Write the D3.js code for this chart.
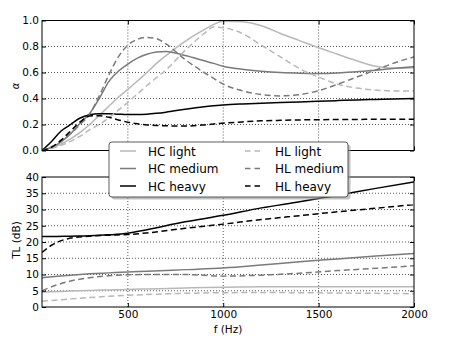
<!DOCTYPE html>
<html>
<head>
<meta charset="utf-8">
<script src="https://cdn.jsdelivr.net/npm/d3@7"></script>
<style>
  html, body { margin: 0; padding: 0; background: #fff; }
  svg text { font-family: "DejaVu Sans", sans-serif; fill: #000; }
</style>
</head>
<body>
<svg id="chart" width="467" height="344"></svg>
<script>
// ---------- data ----------
const seriesNames = ["HC light", "HC medium", "HC heavy", "HL light", "HL medium", "HL heavy"];

const alphaFreq = [50, 100, 150, 200, 250, 300, 350, 400, 450, 500, 550, 600, 650, 700, 800, 900, 950, 1000, 1100, 1200, 1300, 1400, 1500, 1600, 1700, 1800, 1900, 2000];

const alphaHCLight  = [0, 0.02, 0.05, 0.09, 0.14, 0.2, 0.27, 0.34, 0.41, 0.47, 0.535, 0.6, 0.67, 0.73, 0.84, 0.93, 0.97, 0.995, 0.99, 0.96, 0.9, 0.845, 0.79, 0.74, 0.69, 0.648, 0.632, 0.637];
const alphaHCMedium = [0, 0.025, 0.067, 0.13, 0.21, 0.285, 0.4, 0.53, 0.61, 0.665, 0.71, 0.74, 0.757, 0.762, 0.73, 0.69, 0.67, 0.648, 0.625, 0.61, 0.6, 0.595, 0.593, 0.597, 0.605, 0.618, 0.632, 0.645];
const alphaHCHeavy  = [0, 0.07, 0.15, 0.2, 0.25, 0.275, 0.283, 0.283, 0.279, 0.276, 0.276, 0.279, 0.286, 0.295, 0.318, 0.337, 0.344, 0.35, 0.358, 0.364, 0.369, 0.374, 0.379, 0.384, 0.389, 0.393, 0.397, 0.4];
const alphaHLLight  = [0, 0.015, 0.04, 0.07, 0.11, 0.16, 0.2, 0.25, 0.31, 0.37, 0.435, 0.5, 0.56, 0.62, 0.77, 0.9, 0.95, 0.945, 0.9, 0.81, 0.72, 0.63, 0.565, 0.51, 0.48, 0.465, 0.458, 0.458];
const alphaHLMedium = [0, 0.03, 0.07, 0.13, 0.2, 0.28, 0.42, 0.58, 0.72, 0.81, 0.855, 0.87, 0.86, 0.82, 0.7, 0.6, 0.555, 0.51, 0.46, 0.43, 0.42, 0.43, 0.46, 0.51, 0.565, 0.62, 0.675, 0.72];
const alphaHLHeavy  = [0, 0.025, 0.08, 0.15, 0.22, 0.265, 0.268, 0.255, 0.235, 0.218, 0.205, 0.197, 0.192, 0.19, 0.188, 0.197, 0.204, 0.21, 0.22, 0.228, 0.232, 0.235, 0.237, 0.238, 0.239, 0.24, 0.24, 0.24];

const tlFreq = [50, 100, 200, 300, 400, 500, 600, 800, 1000, 1200, 1400, 1600, 1800, 2000];

const tlHCLight  = [4.6, 4.7, 4.9, 5.1, 5.25, 5.4, 5.55, 5.85, 6.1, 6.2, 6.2, 6.2, 6.2, 6.2];
const tlHCMedium = [9.0, 9.3, 9.8, 10.2, 10.5, 10.8, 11.0, 11.5, 12.0, 12.9, 13.9, 14.8, 15.7, 16.5];
const tlHCHeavy  = [21.7, 21.7, 21.8, 21.9, 22.2, 22.7, 23.8, 26.2, 28.2, 30.5, 32.4, 34.4, 36.5, 38.5];
const tlHLLight  = [1.8, 2.0, 2.5, 2.9, 3.3, 3.6, 3.85, 4.2, 4.4, 4.45, 4.4, 4.3, 4.2, 4.1];
const tlHLMedium = [5.0, 6.2, 8.0, 9.0, 9.6, 9.9, 10.0, 10.0, 9.5, 9.8, 10.4, 11.2, 11.9, 12.7];
const tlHLHeavy  = [16.8, 19.0, 21.2, 21.8, 22.1, 22.3, 22.8, 24.2, 25.5, 26.9, 28.1, 29.3, 30.4, 31.5];

const xTicks = [500, 1000, 1500, 2000];
const alphaTicks = [0, 0.2, 0.4, 0.6, 0.8, 1.0];
const tlTicks = [0, 5, 10, 15, 20, 25, 30, 35, 40];

// ---------- styles ----------
const colors = ["#b8b8b8", "#7a7a7a", "#000000", "#b8b8b8", "#7a7a7a", "#000000"];
const dashed = [false, false, false, true, true, true];
const alphaSeries = [alphaHCLight, alphaHCMedium, alphaHCHeavy, alphaHLLight, alphaHLMedium, alphaHLHeavy];
const tlSeries = [tlHCLight, tlHCMedium, tlHCHeavy, tlHLLight, tlHLMedium, tlHLHeavy];

const svg = d3.select("#chart");
const L = 42, R = 414;
const x = d3.scaleLinear().domain([50, 2000]).range([L, R]);

function panel(top, bottom, yDomain, yTicks, fmt, freq, series, showX, clipId) {
  const y = d3.scaleLinear().domain(yDomain).range([bottom, top]);
  const g = svg.append("g");
  g.append("clipPath").attr("id", clipId).append("rect")
    .attr("x", L).attr("y", top).attr("width", R - L).attr("height", bottom - top);

  // grid
  const grid = g.append("g");
  xTicks.filter(t => t < 2000).forEach(t => {
    grid.append("line").attr("x1", x(t)).attr("x2", x(t)).attr("y1", top).attr("y2", bottom)
      .attr("stroke", "#444").attr("stroke-width", 0.9).attr("stroke-dasharray", "1,2");
  });
  yTicks.slice(1, -1).forEach(t => {
    grid.append("line").attr("x1", L).attr("x2", R).attr("y1", y(t)).attr("y2", y(t))
      .attr("stroke", "#444").attr("stroke-width", 0.9).attr("stroke-dasharray", "1,2");
  });

  // lines
  const line = d3.line().x((d, i) => x(freq[i])).y(d => y(d)).curve(d3.curveMonotoneX);
  const lg = g.append("g").attr("clip-path", `url(#${clipId})`);
  series.forEach((s, i) => {
    lg.append("path").attr("d", line(s)).attr("fill", "none")
      .attr("stroke", colors[i]).attr("stroke-width", 1.5)
      .attr("stroke-dasharray", dashed[i] ? "6,3.5" : null);
  });

  // axes (ticks inward)
  const yAxis = d3.axisLeft(y).tickValues(yTicks).tickFormat(fmt).tickSizeInner(-4).tickSizeOuter(0).tickPadding(3);
  const ya = g.append("g").attr("transform", `translate(${L},0)`).call(yAxis);
  const xAxis = d3.axisBottom(x).tickValues(xTicks).tickFormat(showX ? d3.format("d") : () => "")
    .tickSizeInner(-4).tickSizeOuter(0).tickPadding(4);
  const xa = g.append("g").attr("transform", `translate(0,${bottom})`).call(xAxis);
  const ya2 = g.append("g").attr("transform", `translate(${R},0)`)
    .call(d3.axisRight(y).tickValues(yTicks).tickFormat(() => "").tickSizeInner(-4).tickSizeOuter(0));
  const xa2 = g.append("g").attr("transform", `translate(0,${top})`)
    .call(d3.axisTop(x).tickValues(xTicks).tickFormat(() => "").tickSizeInner(-4).tickSizeOuter(0));
  [ya, xa, ya2, xa2].forEach(a => {
    a.select(".domain").remove();
    a.selectAll("line").attr("stroke", "#000");
    a.selectAll("text").attr("font-size", 10.5).style("font-family", "DejaVu Sans");
  });
  g.append("rect").attr("x", L).attr("y", top).attr("width", R - L).attr("height", bottom - top)
    .attr("fill", "none").attr("stroke", "#000").attr("stroke-width", 1);
  return y;
}

panel(20.5, 150.5, [0, 1], alphaTicks, d3.format(".1f"), alphaFreq, alphaSeries, false, "c1");
panel(177, 307, [0, 40], tlTicks, d3.format("d"), tlFreq, tlSeries, true, "c2");

// axis labels
svg.append("text").attr("transform", "translate(19,86) rotate(-90)")
  .attr("text-anchor", "middle").attr("font-size", 10).style("font-style", "italic").text("α");
svg.append("text").attr("transform", "translate(20,240) rotate(-90)")
  .attr("text-anchor", "middle").attr("font-size", 10.5).text("TL (dB)");
svg.append("text").attr("x", 228).attr("y", 333)
  .attr("text-anchor", "middle").attr("font-size", 10.5).text("f (Hz)");

// legend
const lgX = 109, lgY = 142, lgW = 239, lgH = 55;
const leg = svg.append("g");
leg.append("rect").attr("x", lgX + 2.5).attr("y", lgY + 2.5).attr("width", lgW).attr("height", lgH)
  .attr("rx", 3).attr("fill", "#999").attr("opacity", 0.6);
leg.append("rect").attr("x", lgX).attr("y", lgY).attr("width", lgW).attr("height", lgH)
  .attr("rx", 3).attr("fill", "#fff").attr("stroke", "#333").attr("stroke-width", 0.8);
const rowY = [151, 168.5, 186];
seriesNames.forEach((name, i) => {
  const col = Math.floor(i / 3), row = i % 3;
  const lx = col === 0 ? 120 : 245;
  const tx = col === 0 ? 148 : 275;
  leg.append("line").attr("x1", lx).attr("x2", lx + 16).attr("y1", rowY[row]).attr("y2", rowY[row])
    .attr("stroke", colors[i]).attr("stroke-width", 1.5)
    .attr("stroke-dasharray", dashed[i] ? "5.5,4" : null);
  leg.append("text").attr("x", tx).attr("y", rowY[row] + 4.5).attr("font-size", 12).text(name);
});
</script>
</body>
</html>
